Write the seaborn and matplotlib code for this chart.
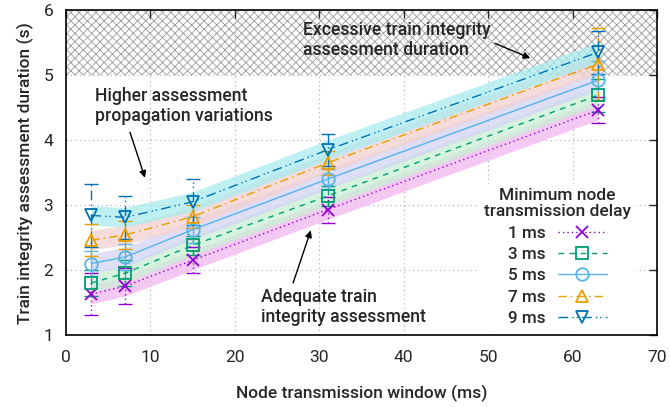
import numpy as np
import pandas as pd
import matplotlib
matplotlib.use("Agg")
import matplotlib.pyplot as plt
import seaborn as sns

# ---------------- data ----------------
windows = [3, 7, 15, 31, 63]
delays = ["1 ms", "3 ms", "5 ms", "7 ms", "9 ms"]
dur_1ms = [1.63, 1.75, 2.15, 2.93, 4.46]
dur_3ms = [1.80, 1.95, 2.38, 3.14, 4.69]
dur_5ms = [2.10, 2.20, 2.62, 3.40, 4.92]
dur_7ms = [2.46, 2.54, 2.82, 3.65, 5.17]
dur_9ms = [2.84, 2.81, 3.05, 3.85, 5.35]
err_1ms = [0.33, 0.28, 0.20, 0.20, 0.20]
err_3ms = [0.20, 0.20, 0.15, 0.15, 0.25]
err_5ms = [0.20, 0.20, 0.20, 0.15, 0.30]
err_7ms = [0.25, 0.22, 0.18, 0.18, 0.56]
err_9ms = [0.48, 0.33, 0.35, 0.25, 0.33]
band_half = 0.15
x_ticks = [0, 10, 20, 30, 40, 50, 60, 70]
y_ticks = [1, 2, 3, 4, 5, 6]

durations = [dur_1ms, dur_3ms, dur_5ms, dur_7ms, dur_9ms]
errors = [err_1ms, err_3ms, err_5ms, err_7ms, err_9ms]

rows = []
for d, vals in zip(delays, durations):
    for w, v in zip(windows, vals):
        rows.append({"window": w, "duration": v, "delay": d})
df = pd.DataFrame(rows)

# ---------------- style ----------------
sns.set_theme(style="white")
plt.rcParams["font.family"] = ["Roboto", "DejaVu Sans"]
plt.rcParams["hatch.linewidth"] = 0.6

line_colors = ["#9400d3", "#009e73", "#56b4e9", "#e69f00", "#0072b2"]
band_colors = ["#f0b8f0", "#c8f0d4", "#d4d4f4", "#f4d0d0", "#a8ecf0"]
markers = ["x", "s", "o", "^", "v"]
dashes = [(1, 2.2), (4, 4), (None, None), (6, 3, 1, 3), (7, 3, 1, 2, 1, 3)]

fig = plt.figure(figsize=(6.7, 4.07), dpi=100)
ax = fig.add_axes([0.0985, 0.177, 0.882, 0.798])

# excessive region hatch
ax.fill_between([0, 70], [5, 5], [6, 6], facecolor="none", edgecolor="#9a9a9a",
                hatch="xxxx", linewidth=0, zorder=0)

# bands
for vals, bc in zip(durations, band_colors):
    v = np.array(vals)
    ax.fill_between(windows, v - band_half, v + band_half, color=bc, alpha=0.75,
                    linewidth=0, zorder=1)

# error bars
for vals, errs, c, dsh in zip(durations, errors, line_colors, dashes):
    eb = ax.errorbar(windows, vals, yerr=errs, fmt="none", ecolor=c, elinewidth=1.0,
                     capsize=5, capthick=1.0, zorder=3)
    if dsh[0] is not None:
        for lc in eb[2]:
            lc.set_linestyle((0, dsh))

# lines
for d, c, m, dsh in zip(delays, line_colors, markers, dashes):
    sub = df[df["delay"] == d]
    sns.lineplot(data=sub, x="window", y="duration", ax=ax, color=c, lw=1.0,
                 marker=m, markersize=9 if m != "x" else 8.5,
                 markerfacecolor="none", markeredgecolor=c, markeredgewidth=1.3,
                 label=d, zorder=4)
    line = ax.get_lines()[-1]
    if dsh[0] is not None:
        line.set_dashes(dsh)

ax.set_xlim(0, 70)
ax.set_ylim(1, 6)
ax.set_xticks(x_ticks)
ax.set_yticks(y_ticks)
ax.grid(True, color="#aaaaaa", linestyle=(0, (1, 3)), linewidth=0.8)
ax.tick_params(direction="in", length=6, width=1, top=True, right=True,
               labelsize=12.5)
ax.tick_params(axis="x", pad=11)
ax.tick_params(axis="y", pad=9)
for s in ax.spines.values():
    s.set_color("black")
    s.set_linewidth(1.2)

ax.set_xlabel("Node transmission window (ms)", fontsize=12.5, fontweight="medium", labelpad=14)
ax.set_ylabel("Train integrity assessment duration (s)", fontsize=12.5, fontweight="medium", labelpad=7)

# annotations
txt_kw = dict(ha="left", va="center", fontsize=12.7, fontweight="medium", linespacing=1.15)
arr_kw = dict(arrowstyle="-|>", color="black", lw=1.0, mutation_scale=10, shrinkA=0, shrinkB=0)

ax.text(28.1, 5.54, "Excessive train integrity\nassessment duration", **txt_kw)
ax.annotate("", xy=(55.0, 5.26), xytext=(50.8, 5.49), arrowprops=arr_kw)

ax.text(3.44, 4.52, "Higher assessment\npropagation variations", **txt_kw)
ax.annotate("", xy=(9.36, 3.42), xytext=(7.58, 4.12), arrowprops=arr_kw)

ax.text(23.1, 1.43, "Adequate train\nintegrity assessment", **txt_kw)
ax.annotate("", xy=(29.0, 2.61), xytext=(26.9, 1.80), arrowprops=arr_kw)

leg = ax.legend(title="Minimum node\ntransmission delay", loc="lower right",
                bbox_to_anchor=(0.978, -0.012), frameon=True, framealpha=1.0,
                facecolor="white", edgecolor="white", markerfirst=False,
                fontsize=12.3, title_fontsize=12.5, handlelength=2.9, labelspacing=0.37,
                borderpad=0.25, handletextpad=0.7)
leg.get_title().set_fontweight("medium")
leg.get_title().set_multialignment("center")
leg.get_title().set_linespacing(1.1)
for t in leg.get_texts():
    t.set_fontweight("medium")

fig.savefig("out.png", dpi=100)
